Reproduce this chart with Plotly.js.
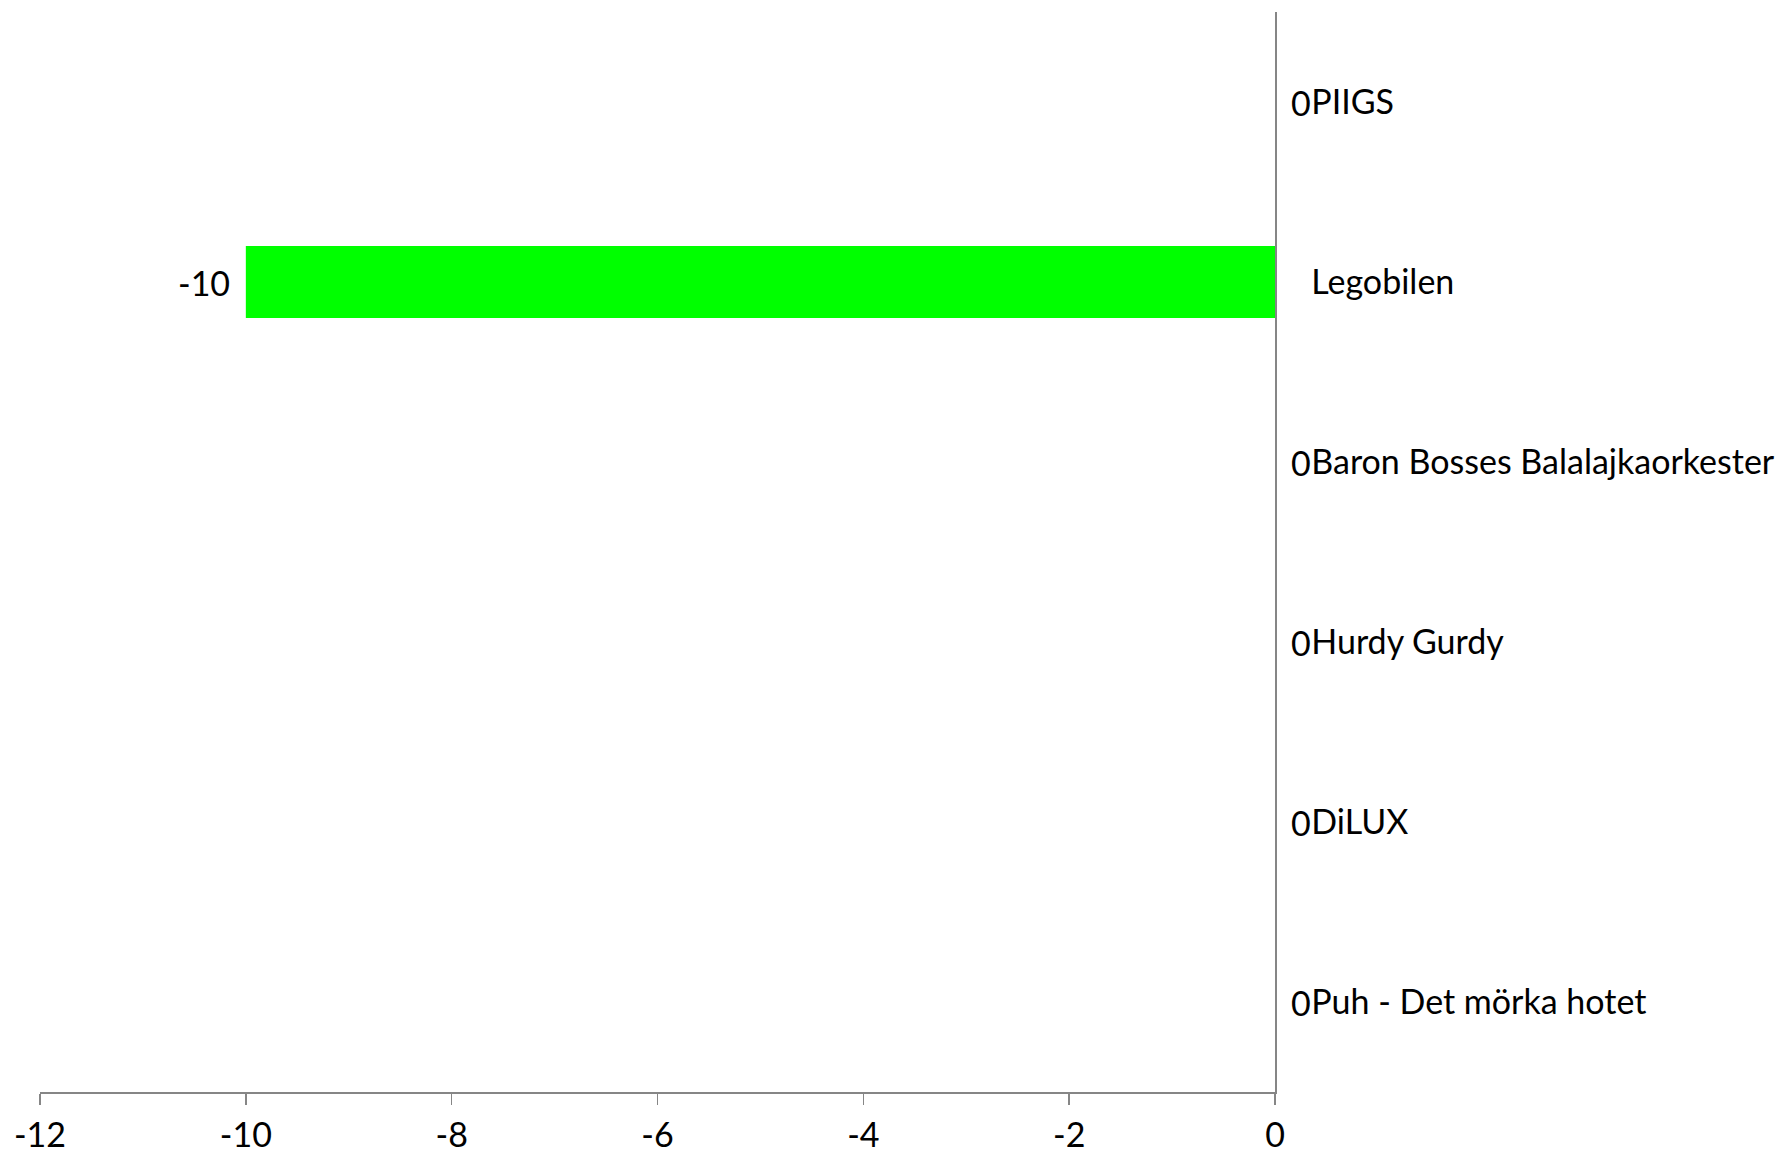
<!DOCTYPE html>
<html>
<head>
<meta charset="utf-8">
<script src="https://cdn.plot.ly/plotly-3.0.1.min.js"></script>
<style>html,body{margin:0;padding:0;background:#fff;}#chart{width:1787px;height:1156px;}</style>
</head>
<body>
<div id="chart"></div>
<script>
const categories = ['PIIGS', 'Legobilen', 'Baron Bosses Balalajkaorkester', 'Hurdy Gurdy', 'DiLUX', 'Puh - Det mörka hotet'];
const values = [0, -10, 0, 0, 0, 0];
const xTickValues = [-12, -10, -8, -6, -4, -2, 0];
const xTickLabels = ['-12', '-10', '-8', '-6', '-4', '-2', '0'];

const FONT = {family: 'Lato, "Open Sans", sans-serif', size: 34, color: '#000000'};
const AXIS = '#868686';

const annotations = values.map((v, i) => ({
  x: v,
  y: categories[i],
  xref: 'x',
  yref: 'y',
  text: String(v),
  showarrow: false,
  xanchor: v < 0 ? 'right' : 'left',
  yanchor: 'middle',
  xshift: v < 0 ? -14 : 14,
  font: FONT
}));

const trace = {
  type: 'bar',
  orientation: 'h',
  x: values,
  y: categories,
  marker: {color: '#00FF00'},
  hoverinfo: 'x+y'
};

const layout = {
  width: 1787,
  height: 1156,
  margin: {l: 40, r: 512, t: 12, b: 64, pad: 0},
  paper_bgcolor: '#ffffff',
  plot_bgcolor: '#ffffff',
  showlegend: false,
  bargap: 0.6,
  font: FONT,
  xaxis: {
    range: [-12, 0],
    tickvals: xTickValues,
    ticktext: xTickLabels,
    ticks: 'outside',
    ticklen: 11,
    tickwidth: 1.5,
    tickcolor: AXIS,
    showline: true,
    linecolor: AXIS,
    linewidth: 1.5,
    showgrid: false,
    zeroline: false,
    tickfont: FONT,
    ticklabelstandoff: 2
  },
  yaxis: {
    type: 'category',
    autorange: 'reversed',
    side: 'right',
    showline: true,
    linecolor: AXIS,
    linewidth: 1.5,
    ticks: '',
    showgrid: false,
    zeroline: false,
    tickfont: FONT,
    ticklabelstandoff: 28
  },
  annotations: annotations
};

Plotly.newPlot('chart', [trace], layout, {displayModeBar: false, staticPlot: true});
</script>
</body>
</html>
